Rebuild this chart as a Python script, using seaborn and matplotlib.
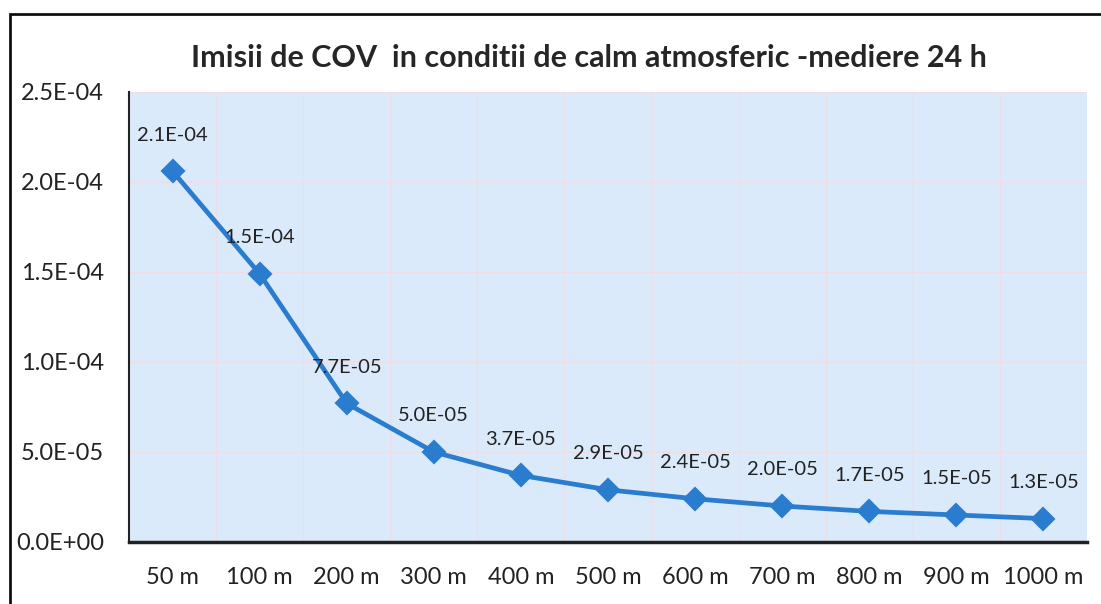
import numpy as np
import pandas as pd
import seaborn as sns
import matplotlib.pyplot as plt
from matplotlib.ticker import FuncFormatter, FixedLocator
from matplotlib.patches import Rectangle

distances = ["50 m", "100 m", "200 m", "300 m", "400 m", "500 m",
             "600 m", "700 m", "800 m", "900 m", "1000 m"]
imisii = [2.06e-4, 1.49e-4, 7.7e-5, 5.0e-5, 3.7e-5, 2.9e-5,
          2.4e-5, 2.0e-5, 1.7e-5, 1.5e-5, 1.3e-5]
y_ticks = [0.0, 5e-5, 1e-4, 1.5e-4, 2e-4, 2.5e-4]
title = "Imisii de COV  in conditii de calm atmosferic -mediere 24 h"

df = pd.DataFrame({"dist": distances, "val": imisii})

sns.set_style("white")
plt.rcParams['font.family'] = ['Lato', 'DejaVu Sans']

fig = plt.figure(figsize=(11.01, 6.04), dpi=100)
ax = fig.add_axes([129/1101, 1-542/604, (1087-129)/1101, (542-92)/604])
ax.set_facecolor("#dbeafb")

line_col = "#2a7cce"
sns.pointplot(data=df, x="dist", y="val", color=line_col, markers="D",
              markersize=10, linewidth=3.4, ax=ax, zorder=3)

ax.set_xlim(-0.5, len(distances) - 0.5)
ax.set_ylim(0, 2.5e-4)
ax.yaxis.set_major_locator(FixedLocator(y_ticks))
ax.yaxis.set_major_formatter(FuncFormatter(lambda v, p: f"{v:.1E}"))

# excel-like grid: horizontal at ticks, vertical at category boundaries
for yv in y_ticks[1:]:
    ax.axhline(yv, color="#efdde5", lw=1, zorder=1)
for xb in np.arange(0.5, len(distances) - 0.5, 1):
    ax.axvline(xb, color="#efdde5", lw=1, zorder=1)

for i, v in enumerate(imisii):
    ax.annotate(f"{v:.1E}", (i, v), xytext=(0, 26), textcoords="offset points",
                ha="center", va="center", fontsize=14.5, color="#222222")

ax.set_xlabel("")
ax.set_ylabel("")
ax.tick_params(axis="y", length=0, pad=18, labelsize=17, labelcolor="#222222")
ax.tick_params(axis="x", length=0, pad=18, labelsize=17, labelcolor="#222222")

for s in ["top", "right"]:
    ax.spines[s].set_visible(False)
ax.spines["left"].set_color("#222222")
ax.spines["left"].set_linewidth(1.5)
ax.spines["bottom"].set_color("#222222")
ax.spines["bottom"].set_linewidth(2.5)

fig.text(589/1101, 1-58/604, title, ha="center", va="center",
         fontsize=22, fontweight="bold", color="#262626")

# outer chart frame
fig.patches.append(Rectangle((10/1101, -0.05), 1.1, 1-14/604+0.05,
                             transform=fig.transFigure, fill=False,
                             edgecolor="#111111", lw=2))

fig.savefig("out.png", dpi=100)
